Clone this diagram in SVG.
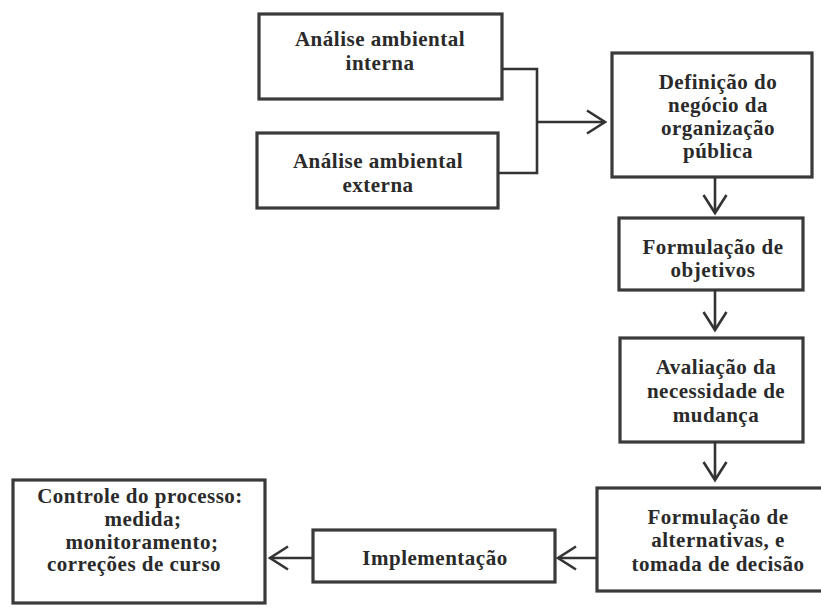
<svg xmlns="http://www.w3.org/2000/svg" width="821" height="608" viewBox="0 0 821 608">
<defs>
<marker id="arr" markerUnits="userSpaceOnUse" markerWidth="30" markerHeight="30" refX="0" refY="0" viewBox="-20 -15 24 30" orient="auto" overflow="visible">
<path d="M-18,-11.5 L0,0 L-18,11.5" fill="none" stroke="#333" stroke-width="2.6" stroke-linejoin="miter"/>
</marker>
</defs>
<style>
.box{fill:#fff;stroke:#3a3a3a;stroke-width:3.2}
.t{font-family:"Liberation Serif","Times New Roman",serif;font-weight:bold;font-size:21px;letter-spacing:0.5px;fill:#2a2a2a;text-anchor:middle}
.c{fill:none;stroke:#333;stroke-width:2.6}
</style>
<rect width="821" height="608" fill="#fff"/>
<g id="interna">
<rect class="box" x="259" y="14" width="243" height="85"/>
<text class="t" x="380" y="46">Análise ambiental</text>
<text class="t" x="380" y="70">interna</text>
</g>
<g id="externa">
<rect class="box" x="257" y="133" width="241" height="75"/>
<text class="t" x="378" y="168">Análise ambiental</text>
<text class="t" x="378" y="192">externa</text>
</g>
<g id="definicao">
<rect class="box" x="612" y="53" width="200" height="124"/>
<text class="t" x="718" y="89">Definição do</text>
<text class="t" x="718" y="112">negócio da</text>
<text class="t" x="718" y="135">organização</text>
<text class="t" x="718" y="158">pública</text>
</g>
<g id="objetivos">
<rect class="box" x="619" y="218" width="184" height="72"/>
<text class="t" x="713" y="254">Formulação de</text>
<text class="t" x="713" y="277">objetivos</text>
</g>
<g id="avaliacao">
<rect class="box" x="620" y="338" width="183" height="104"/>
<text class="t" x="716" y="374">Avaliação da</text>
<text class="t" x="716" y="398">necessidade de</text>
<text class="t" x="716" y="422">mudança</text>
</g>
<g id="alternativas">
<rect class="box" x="597" y="488" width="235" height="103"/>
<text class="t" x="718" y="524">Formulação de</text>
<text class="t" x="718" y="547">alternativas, e</text>
<text class="t" x="718" y="571">tomada de decisão</text>
</g>
<g id="implementacao">
<rect class="box" x="313" y="530" width="242" height="52"/>
<text class="t" x="435" y="565">Implementação</text>
</g>
<g id="controle">
<rect class="box" x="13" y="480" width="252" height="123"/>
<text class="t" x="140" y="503">Controle do processo:</text>
<text class="t" x="143" y="526">medida;</text>
<text class="t" x="142" y="549">monitoramento;</text>
<text class="t" x="134" y="571">correções de curso</text>
</g>
<g id="connectors">
<path class="c" d="M502,69 H537 V173 H498"/>
<path class="c" d="M537,122 H605" marker-end="url(#arr)"/>
<path class="c" d="M715,177 V213" marker-end="url(#arr)"/>
<path class="c" d="M715,290 V330" marker-end="url(#arr)"/>
<path class="c" d="M715,442 V480" marker-end="url(#arr)"/>
<path class="c" d="M597,558 H558" marker-end="url(#arr)"/>
<path class="c" d="M313,558 H270" marker-end="url(#arr)"/>
</g>
</svg>
